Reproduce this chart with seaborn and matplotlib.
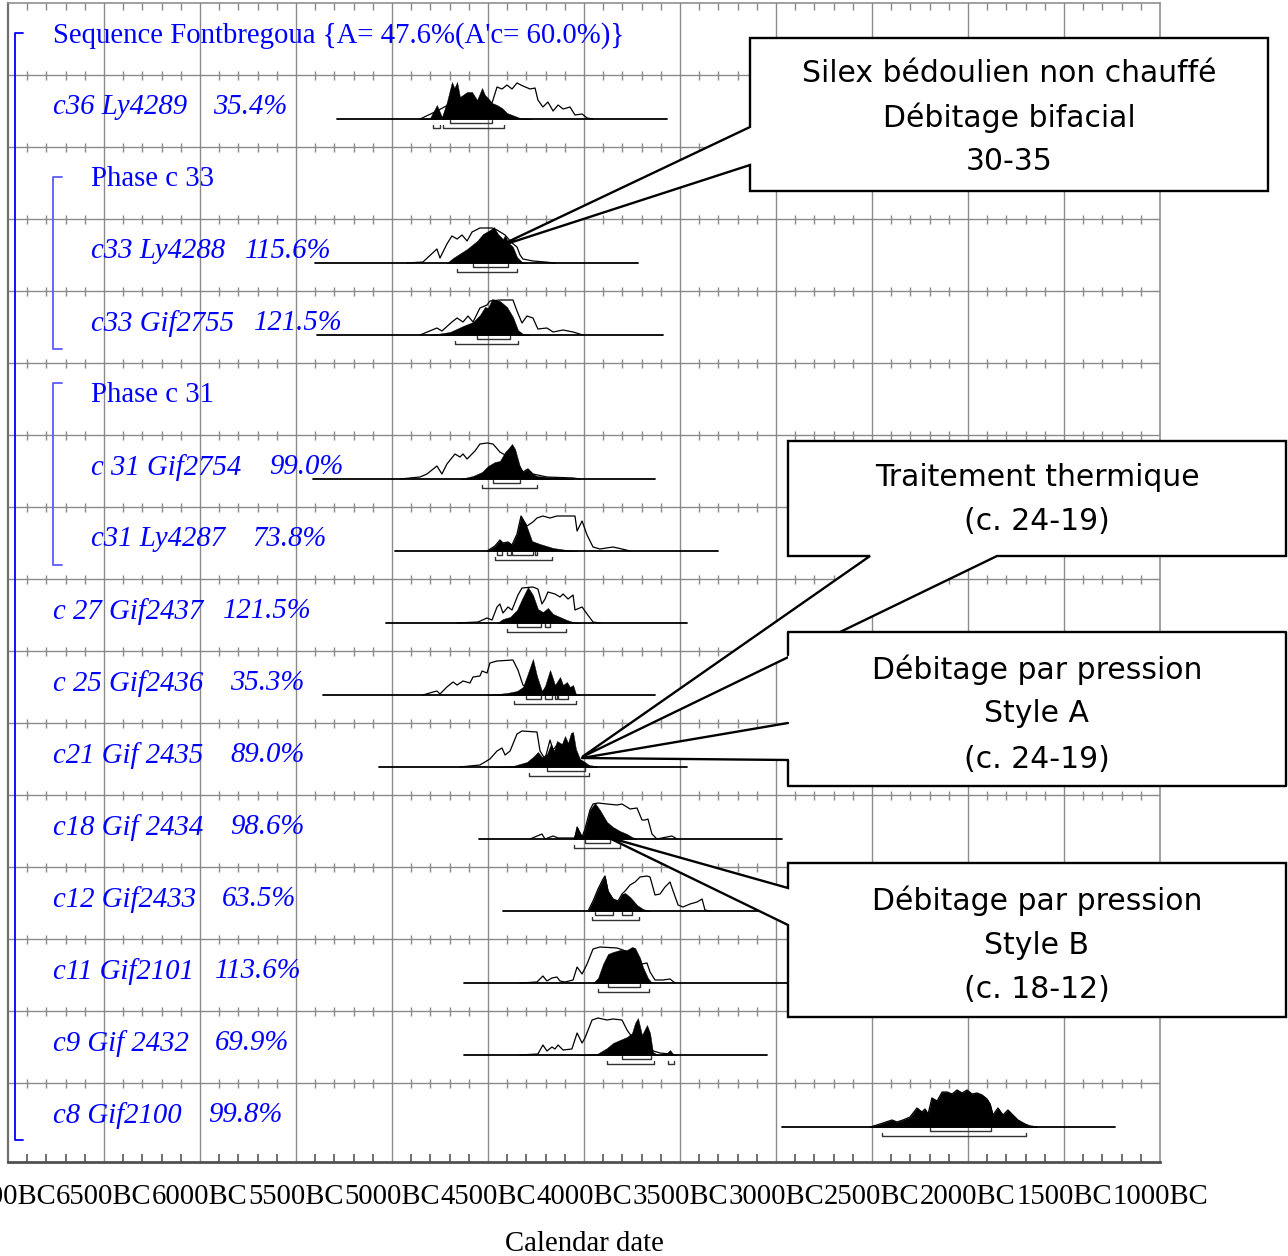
import numpy as np
import pandas as pd
import matplotlib
matplotlib.use("Agg")
import matplotlib.pyplot as plt
import seaborn as sns
from matplotlib.patches import Polygon

sns.set_theme(style="white")
plt.rcParams['font.family'] = ['Liberation Serif', 'DejaVu Serif']

# ---------------- data (years BC, relative probability) ----------------
tick_years_bc = [7000, 6500, 6000, 5500, 5000, 4500, 4000, 3500, 3000, 2500, 2000, 1500, 1000]
tick_labels = [f"{y}BC" for y in tick_years_bc]

header_text = "Sequence Fontbregoua {A= 47.6%(A'c= 60.0%)}"

c36_like_bc = [4854, 4766, 4688, 4594, 4516, 4479, 4453, 4427, 4401, 4375, 4349, 4318, 4281, 4255, 4240, 4214, 4188, 4161, 4135, 4109, 4073, 4047, 4010, 3984, 3953]
c36_like_p = [0, 8, 16, 14, 15, 16, 32, 30, 34, 30, 36, 33, 30, 31, 19, 12, 17, 8, 14, 10, 12, 4, 5, 1, 0]
c36_post_bc = [4854, 4802, 4766, 4740, 4714, 4688, 4675, 4661, 4646, 4609, 4583, 4557, 4531, 4516, 4500, 4479, 4453, 4427, 4401, 4333, 4266]
c36_post_p = [0, 1, 14, 2, 17, 37, 31, 37, 22, 27, 27, 19, 31, 24, 21, 16, 14, 11, 6, 1, 0]
c36_r68 = [(4698, 4479)]
c36_r95 = [(4786, 4750), (4734, 4417)]
c36_base = (5286, 3568)

c33a_like_bc = [4922, 4839, 4766, 4750, 4714, 4688, 4661, 4635, 4609, 4583, 4542, 4505, 4479, 4453, 4411, 4375, 4349, 4333, 4318, 4266, 4203, 4151]
c33a_like_p = [0, 1, 14, 5, 19, 27, 24, 28, 22, 31, 35, 35, 35, 33, 28, 20, 16, 8, 4, 2, 1, 0]
c33a_post_bc = [4714, 4682, 4609, 4557, 4526, 4490, 4469, 4448, 4422, 4411, 4396, 4370, 4349, 4323, 4297]
c33a_post_p = [0, 5, 14, 22, 29, 33, 36, 29, 24, 28, 21, 16, 6, 1, 0]
c33a_r68 = [(4578, 4396)]
c33a_r95 = [(4661, 4349)]
c33a_base = (5401, 3719)

c33b_like_bc = [4854, 4766, 4740, 4688, 4661, 4630, 4604, 4578, 4542, 4505, 4490, 4438, 4370, 4349, 4323, 4297, 4266, 4240, 4193, 4161, 4109, 4057, 4005]
c33b_like_p = [0, 7, 4, 13, 17, 13, 19, 13, 27, 30, 34, 35, 35, 24, 12, 19, 17, 6, 7, 3, 5, 3, 0]
c33b_post_bc = [4802, 4698, 4630, 4578, 4542, 4516, 4500, 4479, 4438, 4401, 4370, 4344, 4318, 4281]
c33b_post_p = [0, 3, 9, 13, 20, 28, 27, 36, 34, 28, 18, 5, 1, 0]
c33b_r68 = [(4557, 4385)]
c33b_r95 = [(4672, 4344)]
c33b_base = (5391, 3589)

c31a_like_bc = [4958, 4854, 4818, 4766, 4740, 4714, 4672, 4646, 4630, 4609, 4568, 4542, 4505, 4474, 4438, 4411, 4375, 4333, 4318, 4292, 4266, 4193, 4057, 4021]
c31a_like_p = [0, 2, 5, 13, 5, 15, 25, 22, 25, 20, 28, 35, 36, 35, 27, 24, 20, 12, 7, 10, 5, 2, 1, 0]
c31a_post_bc = [4646, 4578, 4531, 4500, 4464, 4438, 4411, 4396, 4375, 4359, 4333, 4318, 4292, 4266, 4245, 4193, 4125, 4057]
c31a_post_p = [0, 3, 7, 13, 17, 18, 27, 30, 35, 30, 12, 7, 10, 5, 3, 2, 1, 0]
c31a_r68 = [(4474, 4333)]
c31a_r95 = [(4531, 4245)]
c31a_base = (5411, 3630)

c31b_like_bc = [4505, 4464, 4438, 4422, 4396, 4375, 4349, 4328, 4297, 4266, 4245, 4214, 4177, 4141, 4089, 4047, 4036, 4010, 3984, 3953, 3917, 3849, 3802, 3760]
c31b_like_p = [0, 5, 11, 8, 9, 6, 17, 35, 25, 29, 33, 35, 33, 35, 35, 35, 20, 30, 16, 4, 2, 4, 2, 0]
c31b_post_bc = [4505, 4464, 4438, 4422, 4396, 4375, 4349, 4328, 4297, 4271, 4229, 4161, 4089, 4036]
c31b_post_p = [0, 5, 11, 8, 9, 6, 17, 35, 24, 10, 7, 3, 1, 0]
c31b_r68 = [(4453, 4427), (4401, 4380), (4375, 4266), (4255, 4245)]
c31b_r95 = [(4464, 4167)]
c31b_base = (4984, 3302)

c27_like_bc = [4661, 4552, 4505, 4479, 4453, 4438, 4422, 4396, 4375, 4344, 4323, 4266, 4240, 4219, 4203, 4188, 4151, 4125, 4109, 4083, 4057, 4047, 4010, 3984, 3953, 3917]
c27_like_p = [0, 1, 5, 3, 16, 19, 10, 16, 13, 28, 35, 36, 34, 19, 24, 31, 29, 26, 29, 24, 28, 13, 16, 9, 1, 0]
c27_post_bc = [4453, 4422, 4385, 4349, 4323, 4292, 4266, 4240, 4214, 4188, 4161, 4125, 4089, 4057, 4021]
c27_post_p = [0, 4, 6, 13, 24, 36, 28, 14, 11, 15, 9, 6, 3, 1, 0]
c27_r68 = [(4349, 4224), (4203, 4177)]
c27_r95 = [(4401, 4094)]
c27_base = (5031, 3463)

c25_like_bc = [4839, 4786, 4766, 4750, 4714, 4682, 4661, 4630, 4594, 4578, 4542, 4531, 4505, 4490, 4453, 4370, 4344, 4318, 4297, 4266, 4203, 4125, 4047]
c25_like_p = [0, 3, 4, 1, 8, 13, 10, 14, 12, 18, 19, 24, 22, 32, 34, 35, 25, 10, 8, 3, 2, 1, 0]
c25_post_bc = [4505, 4401, 4349, 4318, 4297, 4266, 4245, 4219, 4203, 4177, 4161, 4151, 4141, 4125, 4109, 4089, 4073, 4057, 4042, 4021]
c25_post_p = [0, 2, 4, 8, 19, 36, 19, 4, 9, 25, 16, 10, 13, 18, 10, 13, 8, 10, 1, 0]
c25_r68 = [(4302, 4224), (4203, 4167), (4151, 4141), (4135, 4083)]
c25_r95 = [(4365, 4042)]
c25_base = (5359, 3630)

c21_like_bc = [4646, 4542, 4490, 4453, 4427, 4411, 4385, 4349, 4323, 4245, 4229, 4203, 4177, 4161, 4141, 4115, 4073, 4021, 3969, 3932]
c21_like_p = [0, 2, 8, 16, 19, 12, 16, 33, 36, 35, 16, 8, 27, 17, 22, 18, 12, 4, 1, 0]
c21_post_bc = [4490, 4370, 4297, 4266, 4240, 4219, 4193, 4172, 4156, 4141, 4115, 4099, 4083, 4068, 4057, 4042, 4021, 3995, 3969, 3932]
c21_post_p = [0, 1, 5, 10, 15, 10, 13, 23, 16, 26, 23, 31, 24, 34, 35, 18, 8, 5, 1, 0]
c21_r68 = [(4193, 3995)]
c21_r95 = [(4286, 3974)]
c21_base = (5068, 3463)

c18_like_bc = [4281, 4219, 4203, 4161, 4135, 4047, 4036, 4010, 3995, 3969, 3953, 3927, 3880, 3828, 3802, 3760, 3724, 3698, 3682, 3667, 3646, 3620, 3568, 3542, 3516]
c18_like_p = [0, 5, 0, 3, 1, 1, 12, 2, 10, 29, 35, 36, 35, 34, 35, 30, 31, 19, 19, 20, 5, 0, 2, 3, 0]
c18_post_bc = [4057, 4036, 4010, 3995, 3969, 3943, 3917, 3880, 3849, 3813, 3776, 3750, 3724]
c18_post_p = [0, 12, 2, 10, 29, 36, 29, 17, 12, 8, 5, 2, 0]
c18_r68 = [(3995, 3865)]
c18_r95 = [(4052, 3813)]
c18_base = (4547, 2969)

c12_like_bc = [3979, 3953, 3927, 3901, 3891, 3875, 3849, 3823, 3802, 3786, 3760, 3734, 3708, 3672, 3656, 3630, 3604, 3578, 3552, 3536, 3510, 3484, 3448, 3411, 3385, 3370, 3344]
c12_like_p = [0, 10, 22, 32, 35, 20, 12, 10, 17, 20, 26, 29, 34, 35, 34, 16, 17, 24, 29, 20, 6, 4, 7, 9, 12, 1, 0]
c12_post_bc = [3979, 3953, 3927, 3901, 3891, 3875, 3849, 3823, 3802, 3786, 3760, 3724, 3693, 3656]
c12_post_p = [0, 10, 22, 32, 35, 20, 12, 10, 17, 18, 14, 6, 2, 0]
c12_r68 = [(3943, 3849), (3802, 3750)]
c12_r95 = [(3958, 3714)]
c12_base = (4422, 3083)

c11_like_bc = [4333, 4245, 4214, 4193, 4167, 4141, 4125, 4099, 4057, 4036, 4010, 3984, 3953, 3917, 3828, 3797, 3760, 3708, 3698, 3672, 3656, 3630, 3589, 3552, 3526]
c11_like_p = [0, 1, 7, 2, 5, 6, 2, 1, 3, 16, 9, 19, 34, 36, 35, 33, 30, 22, 19, 20, 11, 3, 3, 4, 0]
c11_post_bc = [3953, 3927, 3901, 3875, 3849, 3813, 3776, 3750, 3734, 3708, 3693, 3667, 3646]
c11_post_p = [0, 5, 19, 29, 31, 33, 33, 36, 35, 25, 16, 5, 0]
c11_r68 = [(3875, 3708)]
c11_r95 = [(3927, 3661)]
c11_base = (4625, 2938)

c9_like_bc = [4333, 4240, 4214, 4193, 4167, 4151, 4135, 4109, 4063, 4036, 4010, 3995, 3958, 3927, 3880, 3849, 3802, 3776, 3750, 3708, 3656, 3604, 3552, 3516]
c9_like_p = [0, 1, 10, 4, 8, 6, 10, 5, 6, 22, 12, 17, 35, 37, 35, 36, 35, 25, 18, 12, 5, 2, 1, 0]
c9_post_bc = [4036, 3932, 3880, 3849, 3813, 3776, 3750, 3734, 3719, 3698, 3672, 3656, 3641, 3615, 3568, 3552, 3536, 3516]
c9_post_p = [0, 1, 7, 12, 15, 18, 22, 32, 37, 20, 30, 22, 3, 0, 2, 5, 1, 0]
c9_r68 = [(3802, 3651)]
c9_r95 = [(3880, 3635), (3563, 3531)]
c9_base = (4625, 3047)

c8_post_bc = [2510, 2474, 2443, 2396, 2370, 2339, 2302, 2266, 2240, 2224, 2208, 2188, 2161, 2135, 2109, 2083, 2057, 2031, 2005, 1979, 1953, 1927, 1901, 1885, 1870, 1844, 1818, 1792, 1766, 1740, 1703, 1677, 1641]
c8_post_p = [0, 2, 4, 7, 5, 7, 10, 19, 15, 18, 13, 29, 26, 35, 35, 33, 37, 34, 37, 33, 34, 32, 28, 23, 12, 19, 12, 17, 12, 7, 3, 1, 0]
c8_like_bc = c8_post_bc
c8_like_p = c8_post_p
c8_r68 = [(2198, 1880)]
c8_r95 = [(2448, 1698)]
c8_base = (2969, 1234)

# row index, name, percentage, name x(px), pct x(px)
rows = [
    (1, "c36 Ly4289", "35.4%", 53, 213, c36_like_bc, c36_like_p, c36_post_bc, c36_post_p, c36_r68, c36_r95, c36_base),
    (3, "c33 Ly4288", "115.6%", 91, 245, c33a_like_bc, c33a_like_p, c33a_post_bc, c33a_post_p, c33a_r68, c33a_r95, c33a_base),
    (4, "c33 Gif2755", "121.5%", 91, 254, c33b_like_bc, c33b_like_p, c33b_post_bc, c33b_post_p, c33b_r68, c33b_r95, c33b_base),
    (6, "c 31 Gif2754", "99.0%", 91, 269, c31a_like_bc, c31a_like_p, c31a_post_bc, c31a_post_p, c31a_r68, c31a_r95, c31a_base),
    (7, "c31 Ly4287", "73.8%", 91, 252, c31b_like_bc, c31b_like_p, c31b_post_bc, c31b_post_p, c31b_r68, c31b_r95, c31b_base),
    (8, "c 27 Gif2437", "121.5%", 53, 223, c27_like_bc, c27_like_p, c27_post_bc, c27_post_p, c27_r68, c27_r95, c27_base),
    (9, "c 25 Gif2436", "35.3%", 53, 230, c25_like_bc, c25_like_p, c25_post_bc, c25_post_p, c25_r68, c25_r95, c25_base),
    (10, "c21 Gif 2435", "89.0%", 53, 230, c21_like_bc, c21_like_p, c21_post_bc, c21_post_p, c21_r68, c21_r95, c21_base),
    (11, "c18 Gif 2434", "98.6%", 53, 230, c18_like_bc, c18_like_p, c18_post_bc, c18_post_p, c18_r68, c18_r95, c18_base),
    (12, "c12 Gif2433", "63.5%", 53, 222, c12_like_bc, c12_like_p, c12_post_bc, c12_post_p, c12_r68, c12_r95, c12_base),
    (13, "c11 Gif2101", "113.6%", 53, 215, c11_like_bc, c11_like_p, c11_post_bc, c11_post_p, c11_r68, c11_r95, c11_base),
    (14, "c9 Gif 2432", "69.9%", 53, 215, c9_like_bc, c9_like_p, c9_post_bc, c9_post_p, c9_r68, c9_r95, c9_base),
    (15, "c8 Gif2100", "99.8%", 53, 208, c8_like_bc, c8_like_p, c8_post_bc, c8_post_p, c8_r68, c8_r95, c8_base),
]
phase_rows = [(2, "Phase c 33"), (5, "Phase c 31")]

annot_texts = [
    ["Silex bédoulien non chauffé", "Débitage bifacial", "30-35"],
    ["Traitement thermique", "(c. 24-19)"],
    ["Débitage par pression", "Style A", "(c. 24-19)"],
    ["Débitage par pression", "Style B", "(c. 18-12)"],
]

# ---------------- figure ----------------
W, H = 1288, 1256
fig = plt.figure(figsize=(W / 100, H / 100), dpi=100)
fig.patch.set_facecolor("white")
ax = fig.add_axes([8 / W, 1 - 1162 / H, 1152 / W, 1159 / H])
X0, X1 = -7000, -1000
ax.set_xlim(X0, X1)
ax.set_ylim(1162, 3)
ax.set_facecolor("white")


def xd(px):
    return X0 + (px - 8) * (X1 - X0) / 1152.0


GRID = "#8a8a8a"
FS = 20.7
BLUE = "#0000ff"
TY = 2.5  # vertical nudge of labels

# vertical gridlines
for yr in range(-6500, -1000, 500):
    ax.axvline(yr, color=GRID, lw=1.0, zorder=0)
# horizontal row lines and small ticks
minor = [yr for yr in range(-6900, -1000, 100) if yr % 500 != 0]
for k in range(1, 16):
    y = 3 + 72 * k
    ax.axhline(y, color=GRID, lw=1.0, zorder=0)
    ax.vlines(minor, y - 4, y + 5, color=GRID, lw=1.0, zorder=0)
ax.vlines(minor, 3, 10, color=GRID, lw=1.0, zorder=0)
ax.vlines(minor, 1154, 1162, color="#555555", lw=1.2, zorder=0)

for side, col, lw in [("left", "#707070", 1.6), ("bottom", "#505050", 2.0), ("top", "#909090", 1.2), ("right", "#909090", 1.2)]:
    ax.spines[side].set_visible(True)
    ax.spines[side].set_color(col)
    ax.spines[side].set_linewidth(lw)

ax.set_xticks([-y for y in tick_years_bc])
ax.set_xticklabels(tick_labels)
ax.tick_params(axis="x", length=0, pad=15.5, labelsize=FS, colors="black")
ax.set_yticks([])
ax.set_ylabel("")
ax.set_xlabel("Calendar date", fontsize=FS, color="black")
ax.xaxis.set_label_coords(0.5, -0.0595)

# header & phases
ax.text(xd(53), 33 + 3, header_text, fontsize=FS, color=BLUE, va="center", ha="left", zorder=6)
for i, name in phase_rows:
    ax.text(xd(91), 33 + 72 * i + TY, name, fontsize=FS, color=BLUE, va="center", ha="left", zorder=6)

# blue brackets
ax.plot([xd(23), xd(15), xd(15), xd(23)], [33, 33, 1140, 1140], color=BLUE, lw=1.3, zorder=6)
ax.plot([xd(62), xd(53), xd(53), xd(62)], [177, 177, 349, 349], color="#5b5bff", lw=1.3, zorder=6)
ax.plot([xd(62), xd(53), xd(53), xd(62)], [383, 383, 565, 565], color="#5b5bff", lw=1.3, zorder=6)

# distributions
for (i, name, pct, nx, px_, lbc, lp, pbc, pp, r68, r95, base) in rows:
    by = 47 + 72 * i
    ax.plot([-base[0], -base[1]], [by, by], color="black", lw=1.3, zorder=3)
    df = pd.DataFrame({"year": -np.array(lbc, float), "y": by - np.array(lp, float)})
    sns.lineplot(data=df, x="year", y="y", ax=ax, color="black", lw=0.9,
                 estimator=None, sort=False, zorder=4)
    ax.fill_between(-np.array(pbc, float), by - np.array(pp, float), by,
                    color="black", lw=0.3, zorder=5)
    for (a, b) in r68:
        yb = by + 4
        ax.plot([-a, -a, -b, -b], [yb - 3, yb, yb, yb - 3], color="#333333", lw=1.0, zorder=5)
    for (a, b) in r95:
        yb = by + 9
        ax.plot([-a, -a, -b, -b], [yb - 3, yb, yb, yb - 3], color="#333333", lw=1.0, zorder=5)
    ax.text(xd(nx), 33 + 72 * i + TY, name, fontsize=FS, color=BLUE, style="italic",
            va="center", ha="left", zorder=6)
    ax.text(xd(px_), 33 + 72 * i + TY, pct, fontsize=FS, color=BLUE, style="italic",
            va="center", ha="left", zorder=6)

ax.set_ylabel("")


# ---------------- callout boxes ----------------
def P(pts):
    return [(xd(x), y) for x, y in pts]


def callout(pts, z, edge=True):
    poly = Polygon(P(pts), closed=True, facecolor="white",
                   edgecolor="black" if edge else "none", lw=1.7, zorder=z,
                   clip_on=False, joinstyle="miter")
    ax.add_patch(poly)


R = 1286
callout([(750, 38), (1268, 38), (1268, 191), (750, 191), (750, 165), (497, 247), (750, 127)], 10)
callout([(788, 441), (R, 441), (R, 556), (997, 556), (582, 757), (870, 556), (788, 556)], 10)
callout([(788, 632), (R, 632), (R, 786), (788, 786), (788, 760), (582, 758), (788, 723)], 11, edge=False)
edge3 = P([(788, 655), (788, 632), (R, 632), (R, 786), (788, 786), (788, 760), (582, 758), (788, 723)])
ax.plot([p[0] for p in edge3], [p[1] for p in edge3], color="black", lw=1.7, zorder=12, clip_on=False)
callout([(788, 863), (R, 863), (R, 1017), (788, 1017), (788, 925), (607, 837), (788, 888)], 12)

box_text_pos = [
    (1009, [72, 116, 160]),
    (1037, [475, 520]),
    (1037, [668, 712, 757]),
    (1037, [899, 943, 987]),
]
for (cx, ys), lines in zip(box_text_pos, annot_texts):
    for y, t in zip(ys, lines):
        ax.text(xd(cx), y + 2, t, fontsize=21.5, family=["DejaVu Sans"], color="black",
                ha="center", va="center", zorder=13, clip_on=False)

fig.savefig("out.png", dpi=100, facecolor="white")
